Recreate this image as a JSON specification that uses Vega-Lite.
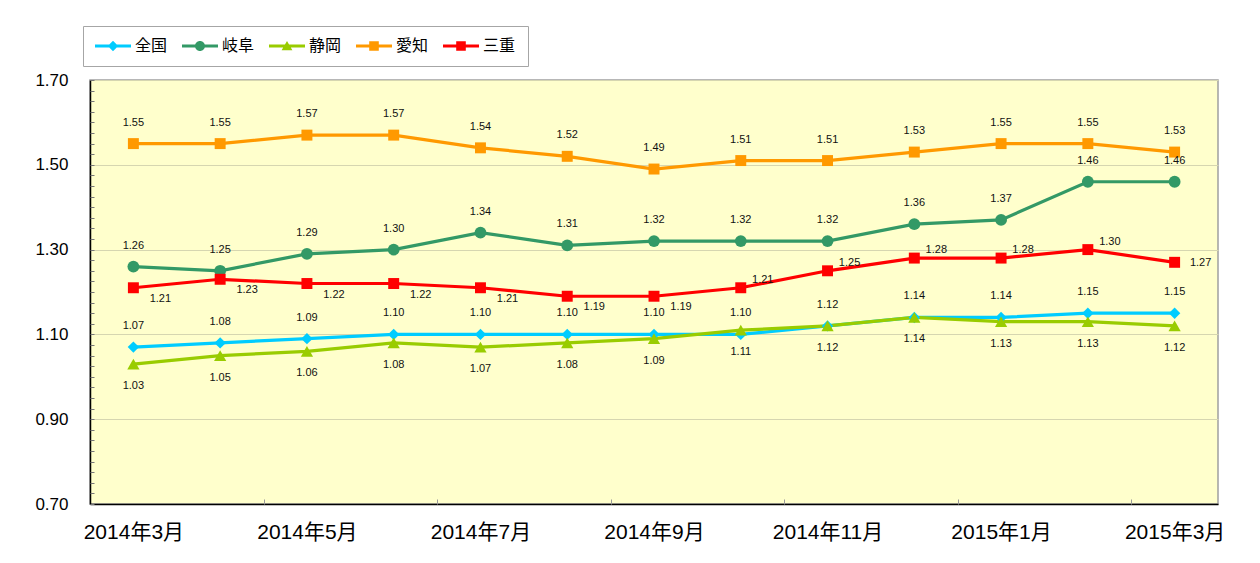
{
  "$schema": "https://vega.github.io/schema/vega-lite/v6.json",
  "autosize": "none",
  "width": 1128,
  "height": 424,
  "padding": {"left": 90, "top": 80, "right": 42, "bottom": 59},
  "background": "white",
  "config": {
    "view": {"fill": "#FFFFCC", "stroke": "#A0A0A0", "strokeWidth": 1.5},
    "font": "Liberation Sans, Noto Sans CJK JP"
  },
  "data": {
    "values": [
      {"m": "2014年3月", "全国": 1.07, "岐阜": 1.26, "静岡": 1.03, "愛知": 1.55, "三重": 1.21},
      {"m": "2014年4月", "全国": 1.08, "岐阜": 1.25, "静岡": 1.05, "愛知": 1.55, "三重": 1.23},
      {"m": "2014年5月", "全国": 1.09, "岐阜": 1.29, "静岡": 1.06, "愛知": 1.57, "三重": 1.22},
      {"m": "2014年6月", "全国": 1.10, "岐阜": 1.30, "静岡": 1.08, "愛知": 1.57, "三重": 1.22},
      {"m": "2014年7月", "全国": 1.10, "岐阜": 1.34, "静岡": 1.07, "愛知": 1.54, "三重": 1.21},
      {"m": "2014年8月", "全国": 1.10, "岐阜": 1.31, "静岡": 1.08, "愛知": 1.52, "三重": 1.19},
      {"m": "2014年9月", "全国": 1.10, "岐阜": 1.32, "静岡": 1.09, "愛知": 1.49, "三重": 1.19},
      {"m": "2014年10月", "全国": 1.10, "岐阜": 1.32, "静岡": 1.11, "愛知": 1.51, "三重": 1.21},
      {"m": "2014年11月", "全国": 1.12, "岐阜": 1.32, "静岡": 1.12, "愛知": 1.51, "三重": 1.25},
      {"m": "2014年12月", "全国": 1.14, "岐阜": 1.36, "静岡": 1.14, "愛知": 1.53, "三重": 1.28},
      {"m": "2015年1月", "全国": 1.14, "岐阜": 1.37, "静岡": 1.13, "愛知": 1.55, "三重": 1.28},
      {"m": "2015年2月", "全国": 1.15, "岐阜": 1.46, "静岡": 1.13, "愛知": 1.55, "三重": 1.30},
      {"m": "2015年3月", "全国": 1.15, "岐阜": 1.46, "静岡": 1.12, "愛知": 1.53, "三重": 1.27}
    ]
  },
  "transform": [{"fold": ["全国", "岐阜", "静岡", "愛知", "三重"], "as": ["s", "v"]}],
  "layer": [
    {
      "mark": {"type": "line", "strokeWidth": 3.2},
      "encoding": {
        "x": {
          "field": "m", "type": "ordinal",
          "sort": ["2014年3月","2014年4月","2014年5月","2014年6月","2014年7月","2014年8月","2014年9月","2014年10月","2014年11月","2014年12月","2015年1月","2015年2月","2015年3月"],
          "axis": {
            "orient": "bottom",
            "values": ["2014年3月","2014年5月","2014年7月","2014年9月","2014年11月","2015年1月","2015年3月"],
            "ticks": false, "domain": true, "domainColor": "black", "domainWidth": 1.5,
            "labelAngle": 0, "labelFontSize": 21, "labelPadding": 17, "labelColor": "black",
            "title": null, "grid": false
          }
        },
        "y": {
          "field": "v", "type": "quantitative",
          "scale": {"domain": [0.7, 1.7], "nice": false, "zero": false},
          "axis": {
            "orient": "left",
            "values": [0.7, 0.9, 1.1, 1.3, 1.5, 1.7],
            "format": ".2f", "ticks": false, "domain": true, "domainColor": "black", "domainWidth": 1.5,
            "labelFontSize": 17, "labelPadding": 22, "labelColor": "black",
            "grid": true, "gridColor": "#D6D6B0", "gridWidth": 1,
            "title": null
          }
        },
        "color": {
          "field": "s", "type": "nominal",
          "scale": {"domain": ["全国", "岐阜", "静岡", "愛知", "三重"], "range": ["#00CCFF", "#339966", "#99CC00", "#FF9900", "#FF0000"]},
          "legend": {
            "orient": "none", "legendX": -7, "legendY": -54, "direction": "horizontal",
            "title": null, "symbolSize": 16, "labelFontSize": 16, "labelColor": "black",
            "labelOffset": 24, "columnPadding": 14, "padding": 12,
            "strokeColor": "#A6A6A6", "fillColor": "white",
            "encode": {
              "symbols": {
                "update": {
                  "shape": {"signal": "datum.value == '全国' ? 'M-4,-0.8H14V0.8H-4Z M5,-2.6L7.6,0L5,2.6L2.4,0Z' : datum.value == '岐阜' ? 'M-4,-0.8H14V0.8H-4Z M2.5,0A2.5,2.5 0 1,1 7.5,0A2.5,2.5 0 1,1 2.5,0Z' : datum.value == '静岡' ? 'M-4,-0.8H14V0.8H-4Z M5,-2.5L7.7,2.1L2.3,2.1Z' : 'M-4,-0.8H14V0.8H-4Z M2.6,-2.4H7.4V2.4H2.6Z'"},
                  "fill": {"signal": "scale('color', datum.value)"},
                  "stroke": {"value": "transparent"},
                  "strokeWidth": {"value": 0},
                  "opacity": {"value": 1}
                }
              }
            }
          }
        }
      }
    },
    {
      "transform": [{"filter": {"field": "s", "equal": "全国"}}],
      "mark": {"type": "point", "shape": "diamond", "filled": true, "opacity": 1, "size": 130},
      "encoding": {
        "x": {
          "field": "m", "type": "ordinal",
          "sort": ["2014年3月","2014年4月","2014年5月","2014年6月","2014年7月","2014年8月","2014年9月","2014年10月","2014年11月","2014年12月","2015年1月","2015年2月","2015年3月"],
          "axis": {
            "orient": "bottom",
            "values": ["2014年3月","2014年5月","2014年7月","2014年9月","2014年11月","2015年1月","2015年3月"],
            "labels": false, "domain": false, "ticks": true, "tickSize": 5, "offset": -5,
            "tickOffset": -43.38, "tickColor": "#999999", "title": null, "grid": false
          }
        },
        "y": {
          "field": "v", "type": "quantitative",
          "axis": {
            "orient": "left",
            "values": [0.7,0.725,0.75,0.775,0.8,0.825,0.85,0.875,0.9,0.925,0.95,0.975,1.0,1.025,1.05,1.075,1.1,1.125,1.15,1.175,1.2,1.225,1.25,1.275,1.3,1.325,1.35,1.375,1.4,1.425,1.45,1.475,1.5,1.525,1.55,1.575,1.6,1.625,1.65,1.675,1.7],
            "labels": false, "domain": false, "ticks": true, "tickSize": 4, "offset": -4,
            "tickColor": "#777777", "grid": false, "title": null
          }
        },
        "color": {"field": "s", "type": "nominal"}
      }
    },
    {
      "transform": [{"filter": {"field": "s", "equal": "岐阜"}}],
      "mark": {"type": "point", "shape": "circle", "filled": true, "opacity": 1, "size": 140},
      "encoding": {
        "x": {"field": "m", "type": "ordinal", "sort": ["2014年3月","2014年4月","2014年5月","2014年6月","2014年7月","2014年8月","2014年9月","2014年10月","2014年11月","2014年12月","2015年1月","2015年2月","2015年3月"], "axis": null},
        "y": {"field": "v", "type": "quantitative", "axis": null},
        "color": {"field": "s", "type": "nominal"}
      }
    },
    {
      "transform": [{"filter": {"field": "s", "equal": "静岡"}}],
      "mark": {"type": "point", "shape": "triangle-up", "filled": true, "opacity": 1, "size": 150},
      "encoding": {
        "x": {"field": "m", "type": "ordinal", "sort": ["2014年3月","2014年4月","2014年5月","2014年6月","2014年7月","2014年8月","2014年9月","2014年10月","2014年11月","2014年12月","2015年1月","2015年2月","2015年3月"], "axis": null},
        "y": {"field": "v", "type": "quantitative", "axis": null},
        "color": {"field": "s", "type": "nominal"}
      }
    },
    {
      "transform": [{"filter": {"field": "s", "oneOf": ["愛知", "三重"]}}],
      "mark": {"type": "point", "shape": "square", "filled": true, "opacity": 1, "size": 120},
      "encoding": {
        "x": {"field": "m", "type": "ordinal", "sort": ["2014年3月","2014年4月","2014年5月","2014年6月","2014年7月","2014年8月","2014年9月","2014年10月","2014年11月","2014年12月","2015年1月","2015年2月","2015年3月"], "axis": null},
        "y": {"field": "v", "type": "quantitative", "axis": null},
        "color": {"field": "s", "type": "nominal"}
      }
    },
    {
      "transform": [{"filter": {"field": "s", "oneOf": ["全国", "岐阜", "愛知"]}}],
      "mark": {"type": "text", "fontSize": 11, "dy": -21, "color": "#111111"},
      "encoding": {
        "x": {"field": "m", "type": "ordinal", "sort": ["2014年3月","2014年4月","2014年5月","2014年6月","2014年7月","2014年8月","2014年9月","2014年10月","2014年11月","2014年12月","2015年1月","2015年2月","2015年3月"], "axis": null},
        "y": {"field": "v", "type": "quantitative", "axis": null},
        "text": {"field": "v", "type": "quantitative", "format": ".2f"}
      }
    },
    {
      "transform": [{"filter": {"field": "s", "equal": "静岡"}}],
      "mark": {"type": "text", "fontSize": 11, "dy": 22, "color": "#111111"},
      "encoding": {
        "x": {"field": "m", "type": "ordinal", "sort": ["2014年3月","2014年4月","2014年5月","2014年6月","2014年7月","2014年8月","2014年9月","2014年10月","2014年11月","2014年12月","2015年1月","2015年2月","2015年3月"], "axis": null},
        "y": {"field": "v", "type": "quantitative", "axis": null},
        "text": {"field": "v", "type": "quantitative", "format": ".2f"}
      }
    },
    {
      "transform": [{"filter": {"field": "s", "equal": "三重"}}, {"filter": {"field": "m", "oneOf": ["2014年3月","2014年4月","2014年5月","2014年6月","2014年7月","2014年8月","2014年9月"]}}],
      "mark": {"type": "text", "fontSize": 11, "dx": 27, "dy": 11, "color": "#111111"},
      "encoding": {
        "x": {"field": "m", "type": "ordinal", "sort": ["2014年3月","2014年4月","2014年5月","2014年6月","2014年7月","2014年8月","2014年9月","2014年10月","2014年11月","2014年12月","2015年1月","2015年2月","2015年3月"], "axis": null},
        "y": {"field": "v", "type": "quantitative", "axis": null},
        "text": {"field": "v", "type": "quantitative", "format": ".2f"}
      }
    },
    {
      "transform": [{"filter": {"field": "s", "equal": "三重"}}, {"filter": {"field": "m", "oneOf": ["2014年10月","2014年11月","2014年12月","2015年1月","2015年2月"]}}],
      "mark": {"type": "text", "fontSize": 11, "dx": 22, "dy": -8, "color": "#111111"},
      "encoding": {
        "x": {"field": "m", "type": "ordinal", "sort": ["2014年3月","2014年4月","2014年5月","2014年6月","2014年7月","2014年8月","2014年9月","2014年10月","2014年11月","2014年12月","2015年1月","2015年2月","2015年3月"], "axis": null},
        "y": {"field": "v", "type": "quantitative", "axis": null},
        "text": {"field": "v", "type": "quantitative", "format": ".2f"}
      }
    },
    {
      "transform": [{"filter": {"field": "s", "equal": "三重"}}, {"filter": {"field": "m", "equal": "2015年3月"}}],
      "mark": {"type": "text", "fontSize": 11, "dx": 26, "dy": 1, "color": "#111111"},
      "encoding": {
        "x": {"field": "m", "type": "ordinal", "sort": ["2014年3月","2014年4月","2014年5月","2014年6月","2014年7月","2014年8月","2014年9月","2014年10月","2014年11月","2014年12月","2015年1月","2015年2月","2015年3月"], "axis": null},
        "y": {"field": "v", "type": "quantitative", "axis": null},
        "text": {"field": "v", "type": "quantitative", "format": ".2f"}
      }
    }
  ],
  "resolve": {"axis": {"x": "independent", "y": "independent"}}
}
